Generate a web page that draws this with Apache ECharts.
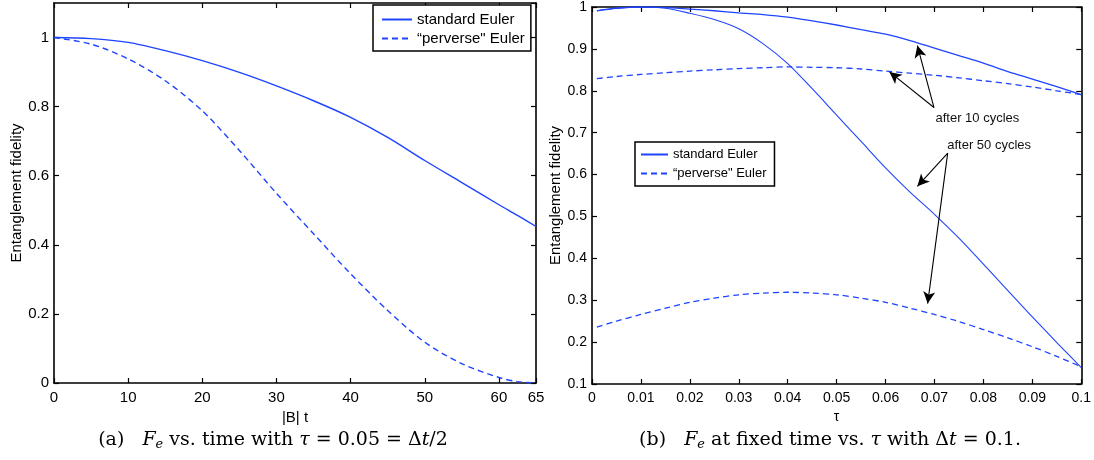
<!DOCTYPE html>
<html>
<head>
<meta charset="utf-8">
<script src="https://cdn.jsdelivr.net/npm/echarts@6/dist/echarts.min.js"></script>
<style>html,body{margin:0;padding:0;background:#fff}#c{width:1094px;height:460px}</style>
</head>
<body>
<div id="c"></div>
<script>
// ---- Panel (a): fidelity vs |B| t ----
const tLeft    = [0, 5, 10, 15, 20, 25, 30, 35, 40, 45, 50, 55, 60, 62.5, 65];
const stdLeft  = [1.0, 0.997, 0.986, 0.962, 0.933, 0.899, 0.860, 0.817, 0.769, 0.711, 0.644, 0.580, 0.516, 0.485, 0.453];
const pervLeft = [1.0, 0.981, 0.938, 0.875, 0.788, 0.673, 0.549, 0.432, 0.316, 0.210, 0.118, 0.056, 0.016, 0.004, 0.0];

// ---- Panel (b): fidelity vs tau ----
const tau       = [0.001, 0.005, 0.01, 0.015, 0.02, 0.025, 0.03, 0.035, 0.04, 0.045, 0.05, 0.055, 0.06, 0.065, 0.07, 0.075, 0.08, 0.085, 0.09, 0.095, 0.1];
const std10     = [0.991, 0.997, 1.0, 0.999, 0.995, 0.991, 0.986, 0.982, 0.976, 0.967, 0.957, 0.946, 0.935, 0.920, 0.902, 0.884, 0.866, 0.846, 0.828, 0.810, 0.791];
const std50     = [0.991, 0.997, 1.0, 0.997, 0.985, 0.970, 0.948, 0.912, 0.865, 0.805, 0.742, 0.679, 0.616, 0.558, 0.505, 0.448, 0.386, 0.323, 0.260, 0.199, 0.139];
const perv10    = [0.829, 0.834, 0.839, 0.843, 0.847, 0.850, 0.853, 0.855, 0.857, 0.856, 0.855, 0.852, 0.847, 0.842, 0.837, 0.831, 0.824, 0.817, 0.809, 0.800, 0.791];
const perv50    = [0.236, 0.250, 0.266, 0.281, 0.295, 0.305, 0.313, 0.317, 0.319, 0.317, 0.313, 0.305, 0.295, 0.281, 0.266, 0.249, 0.230, 0.210, 0.189, 0.166, 0.141];

// annotation arrows: [tail, head] in data coordinates of panel (b)
const arrows10 = [[[0.0699, 0.760], [0.0665, 0.908]], [[0.0699, 0.760], [0.0608, 0.845]]];
const arrows50 = [[[0.0727, 0.651], [0.0665, 0.572]], [[0.0727, 0.651], [0.0686, 0.292]]];
const notes = [{name: 'after 10 cycles', coord: [0.0701, 0.734]}, {name: 'after 50 cycles', coord: [0.0725, 0.670]}];

const names = ['standard Euler', '\u201cperverse" Euler'];
const BLUE = '#1f44ff';
const SANS = "'Liberation Sans', Arial, sans-serif";
const SERIF = "'DejaVu Serif', 'Liberation Serif', serif";

const zip = (xs, ys) => xs.map((x, i) => [x, ys[i]]);
function axis(base, extra) { return Object.assign({}, base, extra); }

function frameAxes(gridIndex, xr, yr, fontSize, xname, yname, xgap, ygap) {
  const line = {show: true, onZero: false, lineStyle: {color: '#000', width: 1.6}};
  const tick = {show: true, inside: true, length: 5, lineStyle: {color: '#000', width: 1.2}};
  const xb = {type: 'value', gridIndex, min: xr[0], max: xr[1], interval: xr[2], splitLine: {show: false}, axisLine: line, axisTick: tick};
  const yb = {type: 'value', gridIndex, min: yr[0], max: yr[1], interval: yr[2], splitLine: {show: false}, axisLine: line, axisTick: tick};
  const lab = {color: '#000', fontFamily: SANS, fontSize: fontSize};
  return {
    x: [
      axis(xb, {position: 'bottom', name: xname, nameLocation: 'middle', nameGap: xgap,
        nameTextStyle: {color: '#000', fontFamily: SANS, fontSize: fontSize},
        axisLabel: Object.assign({margin: 7}, lab)}),
      axis(xb, {position: 'top', axisLabel: {show: false}})
    ],
    y: [
      axis(yb, {position: 'left', name: yname, nameLocation: 'middle', nameGap: ygap, nameRotate: 90,
        nameTextStyle: {color: '#000', fontFamily: SANS, fontSize: 15},
        axisLabel: Object.assign({margin: 5, showMaxLabel: yr[1] === 1}, lab)}),
      axis(yb, {position: 'right', axisLabel: {show: false}})
    ]
  };
}

const A = frameAxes(0, [0, 65, 10], [0, 1.1, 0.2], 15, '|B| t', 'Entanglement fidelity', 18, 29);
const B = frameAxes(1, [0, 0.1, 0.01], [0.1, 1, 0.1], 14, '\u03c4', 'Entanglement fidelity', 18, 22);

function lineSeries(name, xi, yi, data, dashed, w) {
  return {
    name, type: 'line', xAxisIndex: xi, yAxisIndex: yi, data, symbol: 'none',
    smooth: 0.3, silent: true,
    lineStyle: {color: BLUE, width: w, type: dashed ? [6, 4] : 'solid'},
    itemStyle: {color: BLUE}
  };
}

const arrowData = arrows10.concat(arrows50).map(a => [{coord: a[0]}, {coord: a[1]}]);
const hidden = {color: 'rgba(0,0,0,0)', borderColor: 'rgba(0,0,0,0)', borderWidth: 0, opacity: 0};

const option = {
  animation: false,
  backgroundColor: '#fff',
  grid: [
    {left: 54, right: 558, top: 3, bottom: 77},
    {left: 592, right: 11, top: 5, bottom: 76}
  ],
  xAxis: A.x.concat(B.x),
  yAxis: A.y.concat(B.y),
  legend: [
    {
      data: names, orient: 'vertical', left: 373, top: 5, itemWidth: 30, itemHeight: 14, itemGap: 4,
      padding: [7, 6, 5, 8], borderColor: '#000', borderWidth: 1.5, backgroundColor: '#fff',
      itemStyle: hidden,
      textStyle: {color: '#000', fontFamily: SANS, fontSize: 15}, selectedMode: false
    },
    {
      data: names, orient: 'vertical', left: 635, top: 142, itemWidth: 27, itemHeight: 14, itemGap: 6,
      padding: [6, 8, 6, 5], borderColor: '#000', borderWidth: 1.5, backgroundColor: '#fff',
      itemStyle: hidden,
      textStyle: {color: '#000', fontFamily: SANS, fontSize: 13}, selectedMode: false
    }
  ],
  series: [
    lineSeries(names[0], 0, 0, zip(tLeft, stdLeft), false, 1.4),
    lineSeries(names[1], 0, 0, zip(tLeft, pervLeft), true, 1.4),
    lineSeries(names[0], 2, 2, zip(tau, std10), false, 1.3),
    lineSeries(names[0], 2, 2, zip(tau, std50), false, 1.1),
    lineSeries(names[1], 2, 2, zip(tau, perv10), true, 1.3),
    lineSeries(names[1], 2, 2, zip(tau, perv50), true, 1.3),
    {
      name: 'notes', type: 'line', xAxisIndex: 2, yAxisIndex: 2, data: [], silent: true,
      markLine: {
        silent: true, animation: false, symbol: ['none', 'arrow'], symbolSize: [9, 12],
        lineStyle: {color: '#000', width: 1.1, type: 'solid'}, label: {show: false},
        data: arrowData
      },
      markPoint: {
        silent: true, animation: false, symbol: 'circle', symbolSize: 1,
        itemStyle: {color: 'rgba(0,0,0,0)'},
        label: {show: true, position: 'right', distance: 0, formatter: '{b}', color: '#111', fontFamily: SANS, fontSize: 13},
        data: notes
      }
    }
  ],
  graphic: [
    {
      type: 'text', x: 273, y: 440,
      style: {
        text: '(a)   {i|F}{s|e} vs. time with {i|\u03c4} = 0.05 = \u0394{i|t}/2',
        align: 'center', verticalAlign: 'middle', fill: '#000',
        fontFamily: SERIF, fontSize: 19,
        rich: {i: {fontStyle: 'italic', fontFamily: SERIF, fontSize: 19}, s: {fontStyle: 'italic', fontFamily: SERIF, fontSize: 13, padding: [10, 0, 0, 0]}}
      }
    },
    {
      type: 'text', x: 830, y: 440,
      style: {
        text: '(b)   {i|F}{s|e} at fixed time vs. {i|\u03c4} with \u0394{i|t} = 0.1.',
        align: 'center', verticalAlign: 'middle', fill: '#000',
        fontFamily: SERIF, fontSize: 19,
        rich: {i: {fontStyle: 'italic', fontFamily: SERIF, fontSize: 19}, s: {fontStyle: 'italic', fontFamily: SERIF, fontSize: 13, padding: [10, 0, 0, 0]}}
      }
    }
  ]
};

const chart = echarts.init(document.getElementById('c'), null, {renderer: 'canvas'});
chart.setOption(option);
</script>
</body>
</html>
